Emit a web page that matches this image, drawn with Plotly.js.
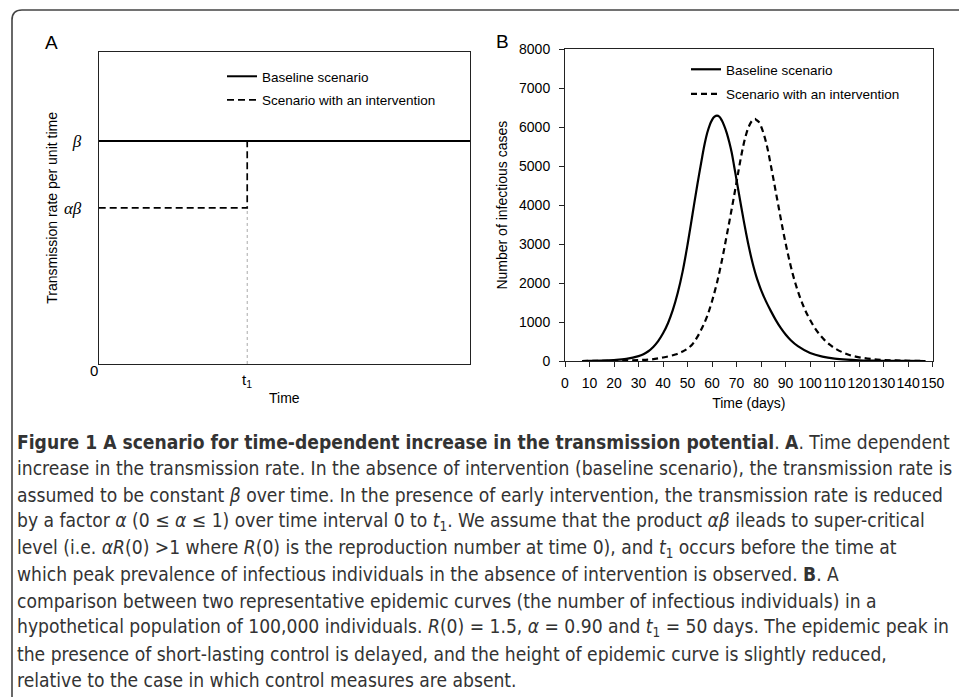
<!DOCTYPE html>
<html>
<head>
<meta charset="utf-8">
<script src="https://cdn.plot.ly/plotly-3.0.1.min.js"></script>
<style>
html,body{margin:0;padding:0;background:#fff;}
#chart{width:959px;height:697px;}
</style>
</head>
<body>
<div id="chart"></div>
<script>
// ---------- Panel A (schematic) ----------
const A_time = [0, 40, 100];          // start, t1, end (arbitrary time units)
const A_beta = 1.0;                   // baseline transmission rate
const A_alphaBeta = 0.7;              // reduced transmission rate
const A_tickVals = [0.7, 1.0];
const A_tickText = ['<i>αβ</i>', '<i>β</i>'];
const A_xTickVals = [0, 40];
const A_xTickText = ['0', 't<sub>1</sub>'];

// ---------- Panel B (epidemic curves) ----------
const baselineDays = [7, 10, 15, 20, 25, 30, 32, 34, 36, 38, 40, 42, 44, 46, 48, 50, 52, 54, 56, 57, 58, 59, 60, 61, 62, 63, 64, 65, 66, 67, 68, 69, 70, 71, 72, 73, 74, 75, 76, 77, 78, 79, 80, 82, 84, 86, 88, 90, 92, 95, 100, 105, 110, 115, 120, 125, 130, 140, 147];
const baselineCases = [0, 2, 8, 25, 55, 125, 175, 250, 360, 510, 710, 970, 1310, 1750, 2300, 2990, 3760, 4530, 5250, 5580, 5850, 6050, 6190, 6270, 6300, 6270, 6170, 6030, 5850, 5620, 5350, 5000, 4640, 4280, 3920, 3570, 3240, 2930, 2650, 2400, 2180, 1990, 1820, 1530, 1280, 1050, 850, 680, 540, 380, 205, 112, 60, 33, 18, 10, 5, 1, 0];
const interventionDays = [7, 15, 20, 25, 30, 35, 40, 45, 48, 50, 52, 54, 56, 58, 60, 62, 64, 66, 68, 70, 71, 72, 73, 74, 75, 76, 77, 77.5, 78, 79, 80, 81, 82, 83, 84, 85, 86, 87, 88, 89, 90, 91, 92, 93, 94, 95, 96, 97, 98, 100, 102, 104, 106, 108, 110, 113, 116, 120, 125, 130, 135, 140, 147];
const interventionCases = [0, 3, 8, 15, 25, 40, 90, 165, 245, 320, 430, 620, 860, 1150, 1540, 2010, 2580, 3230, 3900, 4600, 4960, 5300, 5600, 5840, 6020, 6140, 6200, 6212, 6190, 6140, 6020, 5840, 5620, 5340, 5010, 4680, 4340, 4000, 3660, 3330, 3020, 2730, 2460, 2210, 1990, 1790, 1610, 1450, 1300, 1050, 840, 670, 530, 420, 330, 230, 155, 95, 50, 27, 14, 7, 0];

const seriesNames = ['Baseline scenario', 'Scenario with an intervention'];

const captionLines = [
  '<b>Figure 1 A scenario for time-dependent increase in the transmission potential</b>. <b>A</b>. Time dependent',
  'increase in the transmission rate. In the absence of intervention (baseline scenario), the transmission rate is',
  'assumed to be constant <i>β</i> over time. In the presence of early intervention, the transmission rate is reduced',
  'by a factor <i>α</i> (0 ≤ <i>α</i> ≤ 1) over time interval 0 to <i>t</i><sub>1</sub>. We assume that the product <i>αβ</i> ileads to super-critical',
  'level (i.e. <i>αR</i>(0) &gt;1 where <i>R</i>(0) is the reproduction number at time 0), and <i>t</i><sub>1</sub> occurs before the time at',
  'which peak prevalence of infectious individuals in the absence of intervention is observed. <b>B</b>. A',
  'comparison between two representative epidemic curves (the number of infectious individuals) in a',
  'hypothetical population of 100,000 individuals. <i>R</i>(0) = 1.5, <i>α</i> = 0.90 and <i>t</i><sub>1</sub> = 50 days. The epidemic peak in',
  'the presence of short-lasting control is delayed, and the height of epidemic curve is slightly reduced,',
  'relative to the case in which control measures are absent.'
];

const W = 959, H = 697;
const px = v => v / W;
const py = v => 1 - v / H;

const sans = '"Liberation Sans", Arial, sans-serif';
const serif = '"Liberation Serif", "DejaVu Serif", serif';
const captionFont = '"DejaVu Sans Condensed", "Liberation Sans Narrow", sans-serif';

const traces = [
  { x: [A_time[0], A_time[2]], y: [A_beta, A_beta], xaxis: 'x', yaxis: 'y',
    mode: 'lines', name: seriesNames[0], legend: 'legend', legendgroup: 'a1',
    line: { color: '#000', width: 2 }, hoverinfo: 'skip' },
  { x: [A_time[0], A_time[1], A_time[1]], y: [A_alphaBeta, A_alphaBeta, A_beta], xaxis: 'x', yaxis: 'y',
    mode: 'lines', name: seriesNames[1], legend: 'legend', legendgroup: 'a2',
    line: { color: '#000', width: 1.7, dash: '7px,4px' }, hoverinfo: 'skip' },
  { x: [A_time[1], A_time[1]], y: [0, A_alphaBeta], xaxis: 'x', yaxis: 'y',
    mode: 'lines', showlegend: false,
    line: { color: '#aaaaaa', width: 1, dash: 'dot' }, hoverinfo: 'skip' },
  { x: baselineDays, y: baselineCases, xaxis: 'x2', yaxis: 'y2',
    mode: 'lines', name: seriesNames[0], legend: 'legend2', legendgroup: 'b1',
    line: { color: '#000', width: 2.2, shape: 'spline', smoothing: 1 } },
  { x: interventionDays, y: interventionCases, xaxis: 'x2', yaxis: 'y2',
    mode: 'lines', name: seriesNames[1], legend: 'legend2', legendgroup: 'b2',
    line: { color: '#000', width: 2.2, dash: '6px,4px', shape: 'spline', smoothing: 1 } }
];

const annotations = [
  { text: 'A', x: px(51), y: py(42), xref: 'paper', yref: 'paper', showarrow: false,
    font: { family: sans, size: 19, color: '#000' }, xanchor: 'center', yanchor: 'middle' },
  { text: 'B', x: px(502), y: py(41), xref: 'paper', yref: 'paper', showarrow: false,
    font: { family: sans, size: 19, color: '#000' }, xanchor: 'center', yanchor: 'middle' }
];
// Panel A time-axis labels placed through the x scale
const A_xLabelY = [371, 380];
const A_xLabelShift = [-5, 0];
A_xTickVals.forEach((v, i) => {
  annotations.push({
    text: A_xTickText[i], x: v, xref: 'x', y: py(A_xLabelY[i]), yref: 'paper', showarrow: false,
    xanchor: 'center', yanchor: 'middle', xshift: A_xLabelShift[i],
    font: { family: sans, size: 15, color: '#000' }
  });
});
captionLines.forEach((t, i) => {
  annotations.push({
    text: t, x: px(15), y: py(442 + i * 26.55), xref: 'paper', yref: 'paper', showarrow: false,
    xanchor: 'left', yanchor: 'middle', align: 'left',
    font: { family: captionFont, size: 19.1, color: '#333' }
  });
});

const frameL = px(12), frameT = py(10), rx = 10 / W, ry = 10 / H;
const shapes = [
  { type: 'path', xref: 'paper', yref: 'paper',
    path: `M ${frameL},-0.05 L ${frameL},${frameT - ry} Q ${frameL},${frameT} ${frameL + rx},${frameT} L 1.05,${frameT}`,
    line: { color: '#444', width: 1.6 } }
];

const axisCommon = { showgrid: false, zeroline: false, showline: true, linecolor: '#222', linewidth: 1, mirror: true };

const layout = {
  width: W, height: H,
  margin: { l: 0, r: 0, t: 0, b: 0, pad: 0 },
  paper_bgcolor: '#fff', plot_bgcolor: '#fff',
  showlegend: true,
  font: { family: sans, color: '#000' },
  xaxis: Object.assign({}, axisCommon, {
    domain: [px(98.7), px(470)], range: [0, 100], anchor: 'y',
    showticklabels: false, ticks: '',
    title: { text: 'Time', font: { family: sans, size: 14 }, standoff: 29 }
  }),
  yaxis: Object.assign({}, axisCommon, {
    domain: [1 - 364 / H, 1 - 51.7 / H], range: [0, 1.4], anchor: 'x',
    tickmode: 'array', tickvals: A_tickVals, ticktext: A_tickText, ticks: '',
    tickfont: { family: serif, size: 17 }, ticklabelstandoff: 13,
    title: { text: 'Transmission rate per unit time', font: { family: sans, size: 14 }, standoff: 3 }
  }),
  xaxis2: Object.assign({}, axisCommon, {
    domain: [px(565), px(932.7)], range: [0, 150], anchor: 'y2',
    tickmode: 'linear', tick0: 0, dtick: 10, ticks: 'outside', ticklen: 5, tickcolor: '#222', tickangle: 0,
    tickfont: { family: sans, size: 14 }, ticklabelstandoff: 4,
    title: { text: 'Time (days)', font: { family: sans, size: 14 }, standoff: 8 }
  }),
  yaxis2: Object.assign({}, axisCommon, {
    domain: [1 - 361 / H, 1 - 49.3 / H], range: [0, 8000], anchor: 'x2',
    tickmode: 'linear', tick0: 0, dtick: 1000, ticks: 'outside', ticklen: 5, tickcolor: '#222',
    tickfont: { family: sans, size: 14 }, ticklabelstandoff: 6,
    title: { text: 'Number of infectious cases', font: { family: sans, size: 14 }, standoff: 8 }
  }),
  legend: {
    x: px(222), y: py(61), xanchor: 'left', yanchor: 'top',
    bgcolor: 'rgba(0,0,0,0)', borderwidth: 0,
    font: { family: sans, size: 13.5, color: '#000' },
    traceorder: 'grouped', tracegroupgap: 3, itemwidth: 30
  },
  legend2: {
    x: px(686), y: py(54), xanchor: 'left', yanchor: 'top',
    bgcolor: 'rgba(0,0,0,0)', borderwidth: 0,
    font: { family: sans, size: 13.5, color: '#000' },
    traceorder: 'grouped', tracegroupgap: 4, itemwidth: 30
  },
  annotations: annotations,
  shapes: shapes
};

Plotly.newPlot('chart', traces, layout, { displayModeBar: false, staticPlot: true });
</script>
</body>
</html>
